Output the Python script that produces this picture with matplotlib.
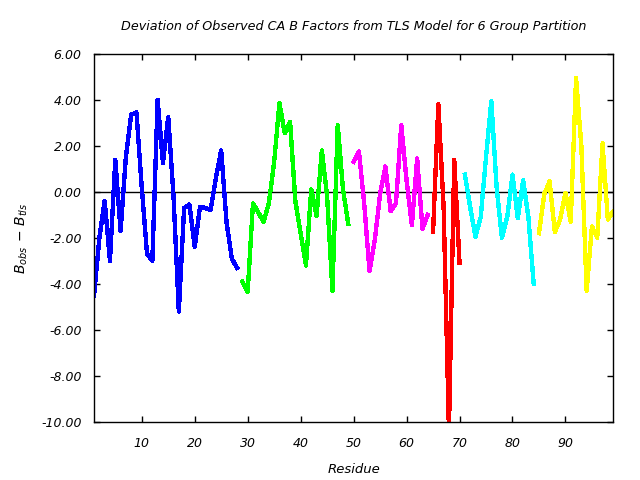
import matplotlib
matplotlib.use('Agg')
import matplotlib.pyplot as plt
import numpy as np

plt.rcParams['font.family'] = ['DejaVu Sans']
plt.rcParams['mathtext.fontset'] = 'dejavusans'

# deviation per residue, one list per TLS group
res_blue = list(range(1, 29))
dev_blue = [-4.5, -2.0, -0.4, -3.0, 1.4, -1.7, 1.5, 3.35, 3.45, 0.2,
            -2.7, -3.0, 4.0, 1.25, 3.25, -0.2, -5.2, -0.7, -0.55, -2.4,
            -0.65, -0.7, -0.8, 0.6, 1.8, -1.3, -2.9, -3.3]

res_green = list(range(29, 50))
dev_green = [-3.9, -4.35, -0.5, -0.9, -1.3, -0.5, 1.3, 3.85, 2.55, 3.05,
             -0.4, -1.8, -3.2, 0.1, -1.05, 1.8, -0.2, -4.3, 2.9, 0.1, -1.4]

res_magenta = list(range(50, 65))
dev_magenta = [1.3, 1.75, -0.5, -3.45, -2.1, -0.1, 1.1, -0.85, -0.5, 2.9,
               0.5, -1.45, 1.45, -1.6, -1.0]

res_red = list(range(65, 71))
dev_red = [-1.75, 3.8, -0.7, -10.4, 1.4, -3.1]

res_cyan = list(range(71, 85))
dev_cyan = [0.75, -0.65, -1.95, -1.1, 1.5, 3.95, 0.2, -2.0, -1.1, 0.75,
            -1.15, 0.5, -1.1, -4.0]

res_yellow = list(range(85, 100))
dev_yellow = [-1.8, -0.1, 0.45, -1.75, -1.2, -0.05, -1.3, 4.95, 2.0, -4.3,
              -1.5, -2.0, 2.1, -1.2, -0.85]

groups = [
    (res_blue, dev_blue, '#0000ff'),
    (res_green, dev_green, '#00ff00'),
    (res_magenta, dev_magenta, '#ff00ff'),
    (res_red, dev_red, '#ff0000'),
    (res_cyan, dev_cyan, '#00ffff'),
    (res_yellow, dev_yellow, '#ffff00'),
]

fig = plt.figure(figsize=(6.4, 4.8), dpi=100)
ax = fig.add_axes([0.147, 0.121, 0.811, 0.767])

ax.axhline(0, color='black', linewidth=1.0, zorder=1)
for res, dev, col in groups:
    ax.plot(res, dev, color=col, linewidth=2.4, antialiased=False, zorder=2)

ax.set_xlim(1, 99)
ax.set_ylim(-10, 6)
xt = np.arange(10, 100, 10)
yt = np.arange(-10, 7, 2)
ax.set_xticks(xt)
ax.set_xticklabels([str(v) for v in xt], style='italic')
ax.set_yticks(yt)
ax.set_yticklabels([f'{v:.2f}' for v in yt], style='italic')

ax.tick_params(direction='in', top=True, right=True, length=4, width=1,
               labelsize=9)
ax.tick_params(axis='x', pad=11)
ax.tick_params(axis='y', pad=9)
for spine in ax.spines.values():
    spine.set_linewidth(1.0)

ax.set_title('Deviation of Observed CA B Factors from TLS Model for 6 Group Partition',
             fontsize=9.2, style='italic', pad=17)
ax.set_xlabel('Residue', fontsize=9.5, style='italic', labelpad=9)
ax.set_ylabel(r'$B_{obs}\,-\,B_{tls}$', fontsize=10, labelpad=8)

plt.savefig('out.png', dpi=100)
plt.close()
